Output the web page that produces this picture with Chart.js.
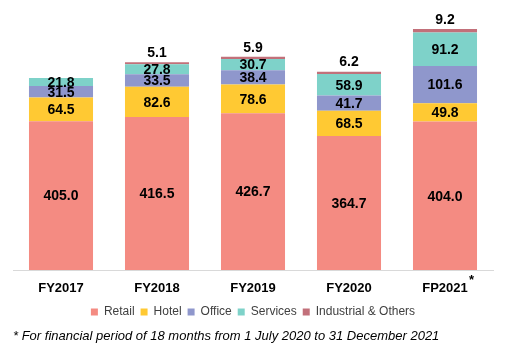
<!DOCTYPE html>
<html>
<head>
<meta charset="utf-8">
<script src="https://cdn.jsdelivr.net/npm/chart.js@4"></script>
<style>
	html, body { margin: 0; padding: 0; background: #fff; }
	#wrap { width: 505px; height: 351px; }
</style>
</head>
<body>
<div id="wrap"><canvas id="chart"></canvas></div>
<script>
const years = ['FY2017', 'FY2018', 'FY2019', 'FY2020', 'FP2021'];
const retail = [405.0, 416.5, 426.7, 364.7, 404.0];
const hotel = [64.5, 82.6, 78.6, 68.5, 49.8];
const office = [31.5, 33.5, 38.4, 41.7, 101.6];
const services = [21.8, 27.8, 30.7, 58.9, 91.2];
const industrial = [null, 5.1, 5.9, 6.2, 9.2];

const font = '"Liberation Sans", Arial, sans-serif';

// draw values inside each segment, top series above the bar
const valueLabels = {
	id: 'valueLabels',
	afterDatasetsDraw: function(chart) {
		let ctx = chart.ctx;
		ctx.save();
		ctx.font = 'bold 14px ' + font;
		ctx.fillStyle = '#000';
		ctx.textAlign = 'center';
		chart.data.datasets.forEach((ds, i) => {
			let meta = chart.getDatasetMeta(i);
			meta.data.forEach((bar, j) => {
				let v = ds.data[j];
				if(v == null) {
					return;
				}
				if(i == chart.data.datasets.length - 1) {
					ctx.textBaseline = 'middle';
					ctx.fillText(v.toFixed(1), bar.x, bar.y - 9);
				} else {
					ctx.textBaseline = 'middle';
					ctx.fillText(v.toFixed(1), bar.x, (bar.y + bar.base) / 2 + 1);
				}
			});
		});
		// asterisk after last category
		let x = chart.scales.x;
		let px = x.getPixelForValue(years.length - 1);
		ctx.font = 'bold 13px ' + font;
		ctx.textAlign = 'left';
		ctx.textBaseline = 'middle';
		ctx.fillText('*', px + 24, x.top + 10);
		ctx.restore();
	}
};

let config = {
	type: 'bar',
	data: {
		labels: years,
		datasets: [{
			label: 'Retail',
			data: retail,
			backgroundColor: '#F48B82',
		}, {
			label: 'Hotel',
			data: hotel,
			backgroundColor: '#FFC933',
		}, {
			label: 'Office',
			data: office,
			backgroundColor: '#8F97CC',
		}, {
			label: 'Services',
			data: services,
			backgroundColor: '#7ED2C9',
		}, {
			label: 'Industrial & Others',
			data: industrial,
			backgroundColor: '#C2707A',
		}]
	},
	options: {
		responsive: true,
		maintainAspectRatio: false,
		animation: false,
		categoryPercentage: 1,
		barPercentage: 0.667,
		layout: { padding: { left: 13, right: 12, top: 0, bottom: 7 } },
		scales: {
			x: {
				stacked: true,
				grid: { display: false, drawTicks: false },
				border: { color: '#D9D9D9', width: 1 },
				ticks: {
					color: '#000',
					padding: 10,
					font: { family: font, size: 13, weight: 'bold', lineHeight: '16px' },
				},
				afterFit: function(scale) {
					scale.height = 30;
				},
			},
			y: {
				stacked: true,
				display: false,
				min: 0,
				max: 735,
			},
		},
		plugins: {
			legend: {
				position: 'bottom',
				labels: {
					usePointStyle: true,
					pointStyle: 'rect',
					boxWidth: 7,
					boxHeight: 7,
					padding: 6,
					color: '#404040',
					font: { family: font, size: 12 },
				},
			},
			subtitle: {
				display: true,
				position: 'bottom',
				align: 'start',
				text: '* For financial period of 18 months from 1 July 2020 to 31 December 2021',
				color: '#000',
				padding: { top: 0, bottom: 0 },
				font: { family: font, size: 13, style: 'italic', lineHeight: '16px' },
			},
			tooltip: { enabled: false },
		},
	},
	plugins: [valueLabels],
};
let ctx = document.getElementById('chart').getContext('2d');
new Chart(ctx, config);
</script>
</body>
</html>
